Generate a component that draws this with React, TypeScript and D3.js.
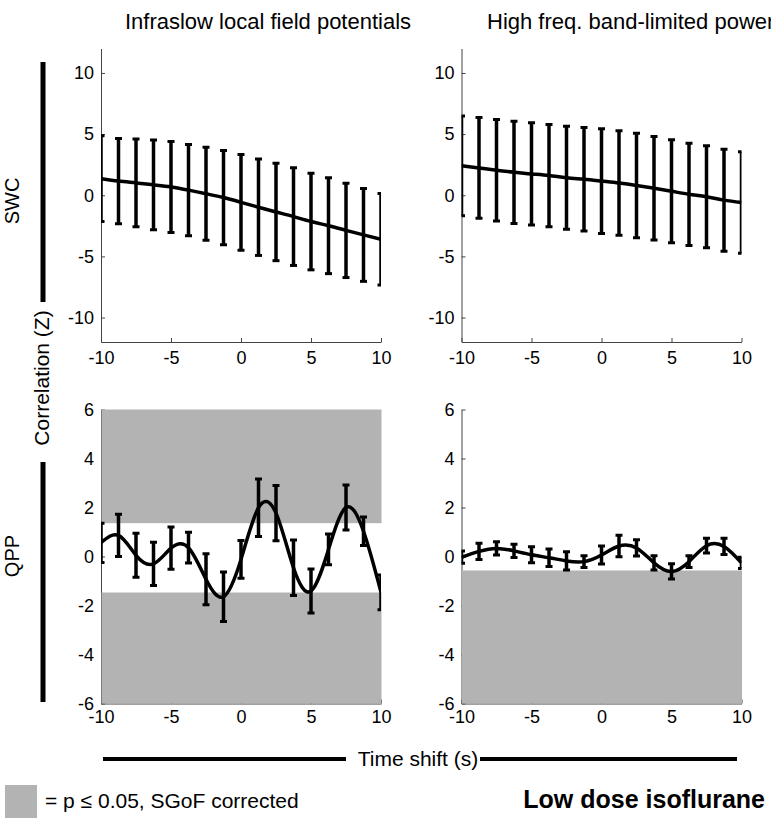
import { useEffect, useRef } from 'react'
import * as d3 from 'd3'

// time shift (s) of each correlation estimate
const timeShift = [-10, -8.75, -7.5, -6.25, -5, -3.75, -2.5, -1.25, 0, 1.25, 2.5, 3.75, 5, 6.25, 7.5, 8.75, 10]

// SWC, infraslow LFP
const swcLfpMean = [1.36, 1.16, 1.01, 0.85, 0.68, 0.42, 0.12, -0.19, -0.58, -0.98, -1.37, -1.75, -2.15, -2.49, -2.87, -3.24, -3.6]
const swcLfpErr = [3.51, 3.49, 3.58, 3.67, 3.72, 3.73, 3.8, 3.85, 3.92, 3.94, 3.98, 3.99, 3.95, 3.92, 3.86, 3.8, 3.74]

// SWC, band-limited power
const swcBlpMean = [2.41, 2.23, 2.04, 1.88, 1.74, 1.61, 1.43, 1.31, 1.16, 1.0, 0.8, 0.57, 0.33, 0.08, -0.13, -0.4, -0.6]
const swcBlpErr = [4.08, 4.12, 4.15, 4.18, 4.18, 4.18, 4.22, 4.24, 4.28, 4.28, 4.27, 4.23, 4.21, 4.18, 4.17, 4.17, 4.15]

// QPP, infraslow LFP
const qppLfpMean = [0.56, 0.86, 0.05, -0.3, 0.34, 0.36, -0.93, -1.64, -0.12, 1.99, 1.77, -0.46, -1.41, 0.29, 2.0, 1.03, -1.46]
const qppLfpErr = [0.8, 0.86, 0.9, 0.88, 0.86, 0.63, 1.04, 1.01, 0.77, 1.17, 1.13, 1.13, 0.9, 0.63, 0.92, 0.58, 0.71]

// QPP, band-limited power
const qppBlpMean = [-0.03, 0.21, 0.33, 0.23, 0.07, -0.05, -0.18, -0.21, 0.06, 0.43, 0.35, -0.26, -0.61, -0.21, 0.44, 0.41, -0.26]
const qppBlpErr = [0.25, 0.33, 0.27, 0.27, 0.33, 0.36, 0.37, 0.24, 0.37, 0.44, 0.33, 0.29, 0.31, 0.24, 0.3, 0.33, 0.23]

// significance thresholds (p <= 0.05), null = no band
const qppLfpThresh = [-1.47, 1.36]
const qppBlpThresh = [-0.57, null]

const xTicks = [-10, -5, 0, 5, 10]
const swcTicks = [-10, -5, 0, 5, 10]
const qppTicks = [-6, -4, -2, 0, 2, 4, 6]

const colTitles = ['Infraslow local field potentials', 'High freq. band-limited power']

const FONT = 'Liberation Sans, Arial, sans-serif'
const GRAY = '#b3b3b3'

export default function App() {
  const svgRef = useRef<SVGSVGElement>(null)

  useEffect(() => {
    const svg = d3.select(svgRef.current)
    svg.selectAll('*').remove()

    const cols = [[101, 381], [461.5, 741.5]]
    const rows = [
      { range: [342, 48.5], domain: [-12, 12], ticks: swcTicks },
      { range: [703.5, 409.5], domain: [-6, 6], ticks: qppTicks }
    ]
    const panels = [
      { row: 0, col: 0, mean: swcLfpMean, err: swcLfpErr, thresh: null },
      { row: 0, col: 1, mean: swcBlpMean, err: swcBlpErr, thresh: null },
      { row: 1, col: 0, mean: qppLfpMean, err: qppLfpErr, thresh: qppLfpThresh },
      { row: 1, col: 1, mean: qppBlpMean, err: qppBlpErr, thresh: qppBlpThresh }
    ]
    const fmt = (d: number) => String(d)

    panels.forEach((p, i) => {
      const r = rows[p.row]
      const x = d3.scaleLinear().domain([-10, 10]).range(cols[p.col])
      const y = d3.scaleLinear().domain(r.domain).range(r.range)
      const g = svg.append('g')

      const clipId = `clip${i}`
      g.append('clipPath').attr('id', clipId)
        .append('rect')
        .attr('x', x(-10)).attr('y', y(r.domain[1]))
        .attr('width', x(10) - x(-10)).attr('height', y(r.domain[0]) - y(r.domain[1]))

      const yAxis = g.append('g')
        .attr('transform', `translate(${x(-10)},0)`)
        .call(d3.axisLeft(y).tickValues(r.ticks).tickFormat(fmt).tickSizeInner(-4).tickSizeOuter(0).tickPadding(7))
      const xAxis = g.append('g')
        .attr('transform', `translate(0,${y(r.domain[0])})`)
        .call(d3.axisBottom(x).tickValues(xTicks).tickFormat(fmt).tickSizeInner(-4).tickSizeOuter(0).tickPadding(p.row === 0 ? 9 : 7))
      ;[yAxis, xAxis].forEach(a => {
        a.selectAll('path').attr('stroke', '#444').attr('stroke-width', 1)
        a.selectAll('line').attr('stroke', '#444')
        a.selectAll('text').attr('font-family', FONT).attr('font-size', 18).attr('fill', '#000')
      })

      // significance bands
      if (p.thresh) {
        const [lo, hi] = p.thresh
        const bands = []
        if (lo !== null) bands.push([r.domain[0], lo])
        if (hi !== null) bands.push([hi, r.domain[1]])
        g.selectAll('.band').data(bands).enter().append('rect')
          .attr('x', x(-10) + 0.5)
          .attr('width', x(10) - x(-10))
          .attr('y', d => y(d[1]))
          .attr('height', d => y(d[0]) - y(d[1]))
          .attr('fill', GRAY)
      }

      const data = timeShift.map((t, k) => ({ t, m: p.mean[k], e: p.err[k] }))
      const plot = g.append('g').attr('clip-path', `url(#${clipId})`)

      plot.selectAll('.eb').data(data).enter().append('line')
        .attr('x1', d => x(d.t)).attr('x2', d => x(d.t))
        .attr('y1', d => y(d.m - d.e)).attr('y2', d => y(d.m + d.e))
        .attr('stroke', '#000').attr('stroke-width', 3.5)
      const caps = data.flatMap(d => [d.m - d.e, d.m + d.e].map(v => ({ t: d.t, v })))
      plot.selectAll('.cap').data(caps).enter().append('line')
        .attr('x1', d => x(d.t) - 3.5).attr('x2', d => x(d.t) + 3.5)
        .attr('y1', d => y(d.v)).attr('y2', d => y(d.v))
        .attr('stroke', '#000').attr('stroke-width', 3)

      const line = d3.line<{ t: number, m: number }>()
        .x(d => x(d.t)).y(d => y(d.m))
        .curve(d3.curveNatural)
      plot.append('path').datum(data)
        .attr('d', line)
        .attr('fill', 'none').attr('stroke', '#000').attr('stroke-width', 3.5)
    })

    // column titles
    svg.append('text').attr('x', 268).attr('y', 29).attr('text-anchor', 'middle')
      .attr('font-family', FONT).attr('font-size', 22).text(colTitles[0])
    svg.append('text').attr('x', 487).attr('y', 29).attr('text-anchor', 'start')
      .attr('font-family', FONT).attr('font-size', 22).text(colTitles[1])

    // row labels and bars
    const rowLabels = [{ text: 'SWC', cy: 201, bar: [62, 302] }, { text: 'QPP', cy: 556, bar: [462, 702] }]
    rowLabels.forEach(l => {
      svg.append('text').attr('transform', `translate(19,${l.cy}) rotate(-90)`)
        .attr('text-anchor', 'middle').attr('font-family', FONT).attr('font-size', 20).text(l.text)
      svg.append('line').attr('x1', 43).attr('x2', 43).attr('y1', l.bar[0]).attr('y2', l.bar[1])
        .attr('stroke', '#000').attr('stroke-width', 5)
    })
    svg.append('text').attr('transform', 'translate(49,378) rotate(-90)')
      .attr('text-anchor', 'middle').attr('font-family', FONT).attr('font-size', 21).text('Correlation (Z)')

    // x label with bars
    svg.append('text').attr('x', 418).attr('y', 766).attr('text-anchor', 'middle')
      .attr('font-family', FONT).attr('font-size', 21).text('Time shift (s)')
    ;[[103, 346], [480, 737]].forEach(([a, b]) => {
      svg.append('line').attr('x1', a).attr('x2', b).attr('y1', 759).attr('y2', 759)
        .attr('stroke', '#000').attr('stroke-width', 4)
    })

    // legend
    svg.append('rect').attr('x', 5).attr('y', 785).attr('width', 32).attr('height', 33).attr('fill', GRAY)
    svg.append('text').attr('x', 45).attr('y', 808).attr('font-family', FONT).attr('font-size', 21)
      .text('= p \u2264 0.05, SGoF corrected')
    svg.append('text').attr('x', 765).attr('y', 808).attr('text-anchor', 'end')
      .attr('font-family', FONT).attr('font-size', 25).attr('font-weight', 'bold')
      .text('Low dose isoflurane')
  }, [])

  return (
    <svg ref={svgRef} width={771} height={818}
      style={{ position: 'absolute', left: 0, top: 0, background: '#fff' }} />
  )
}
